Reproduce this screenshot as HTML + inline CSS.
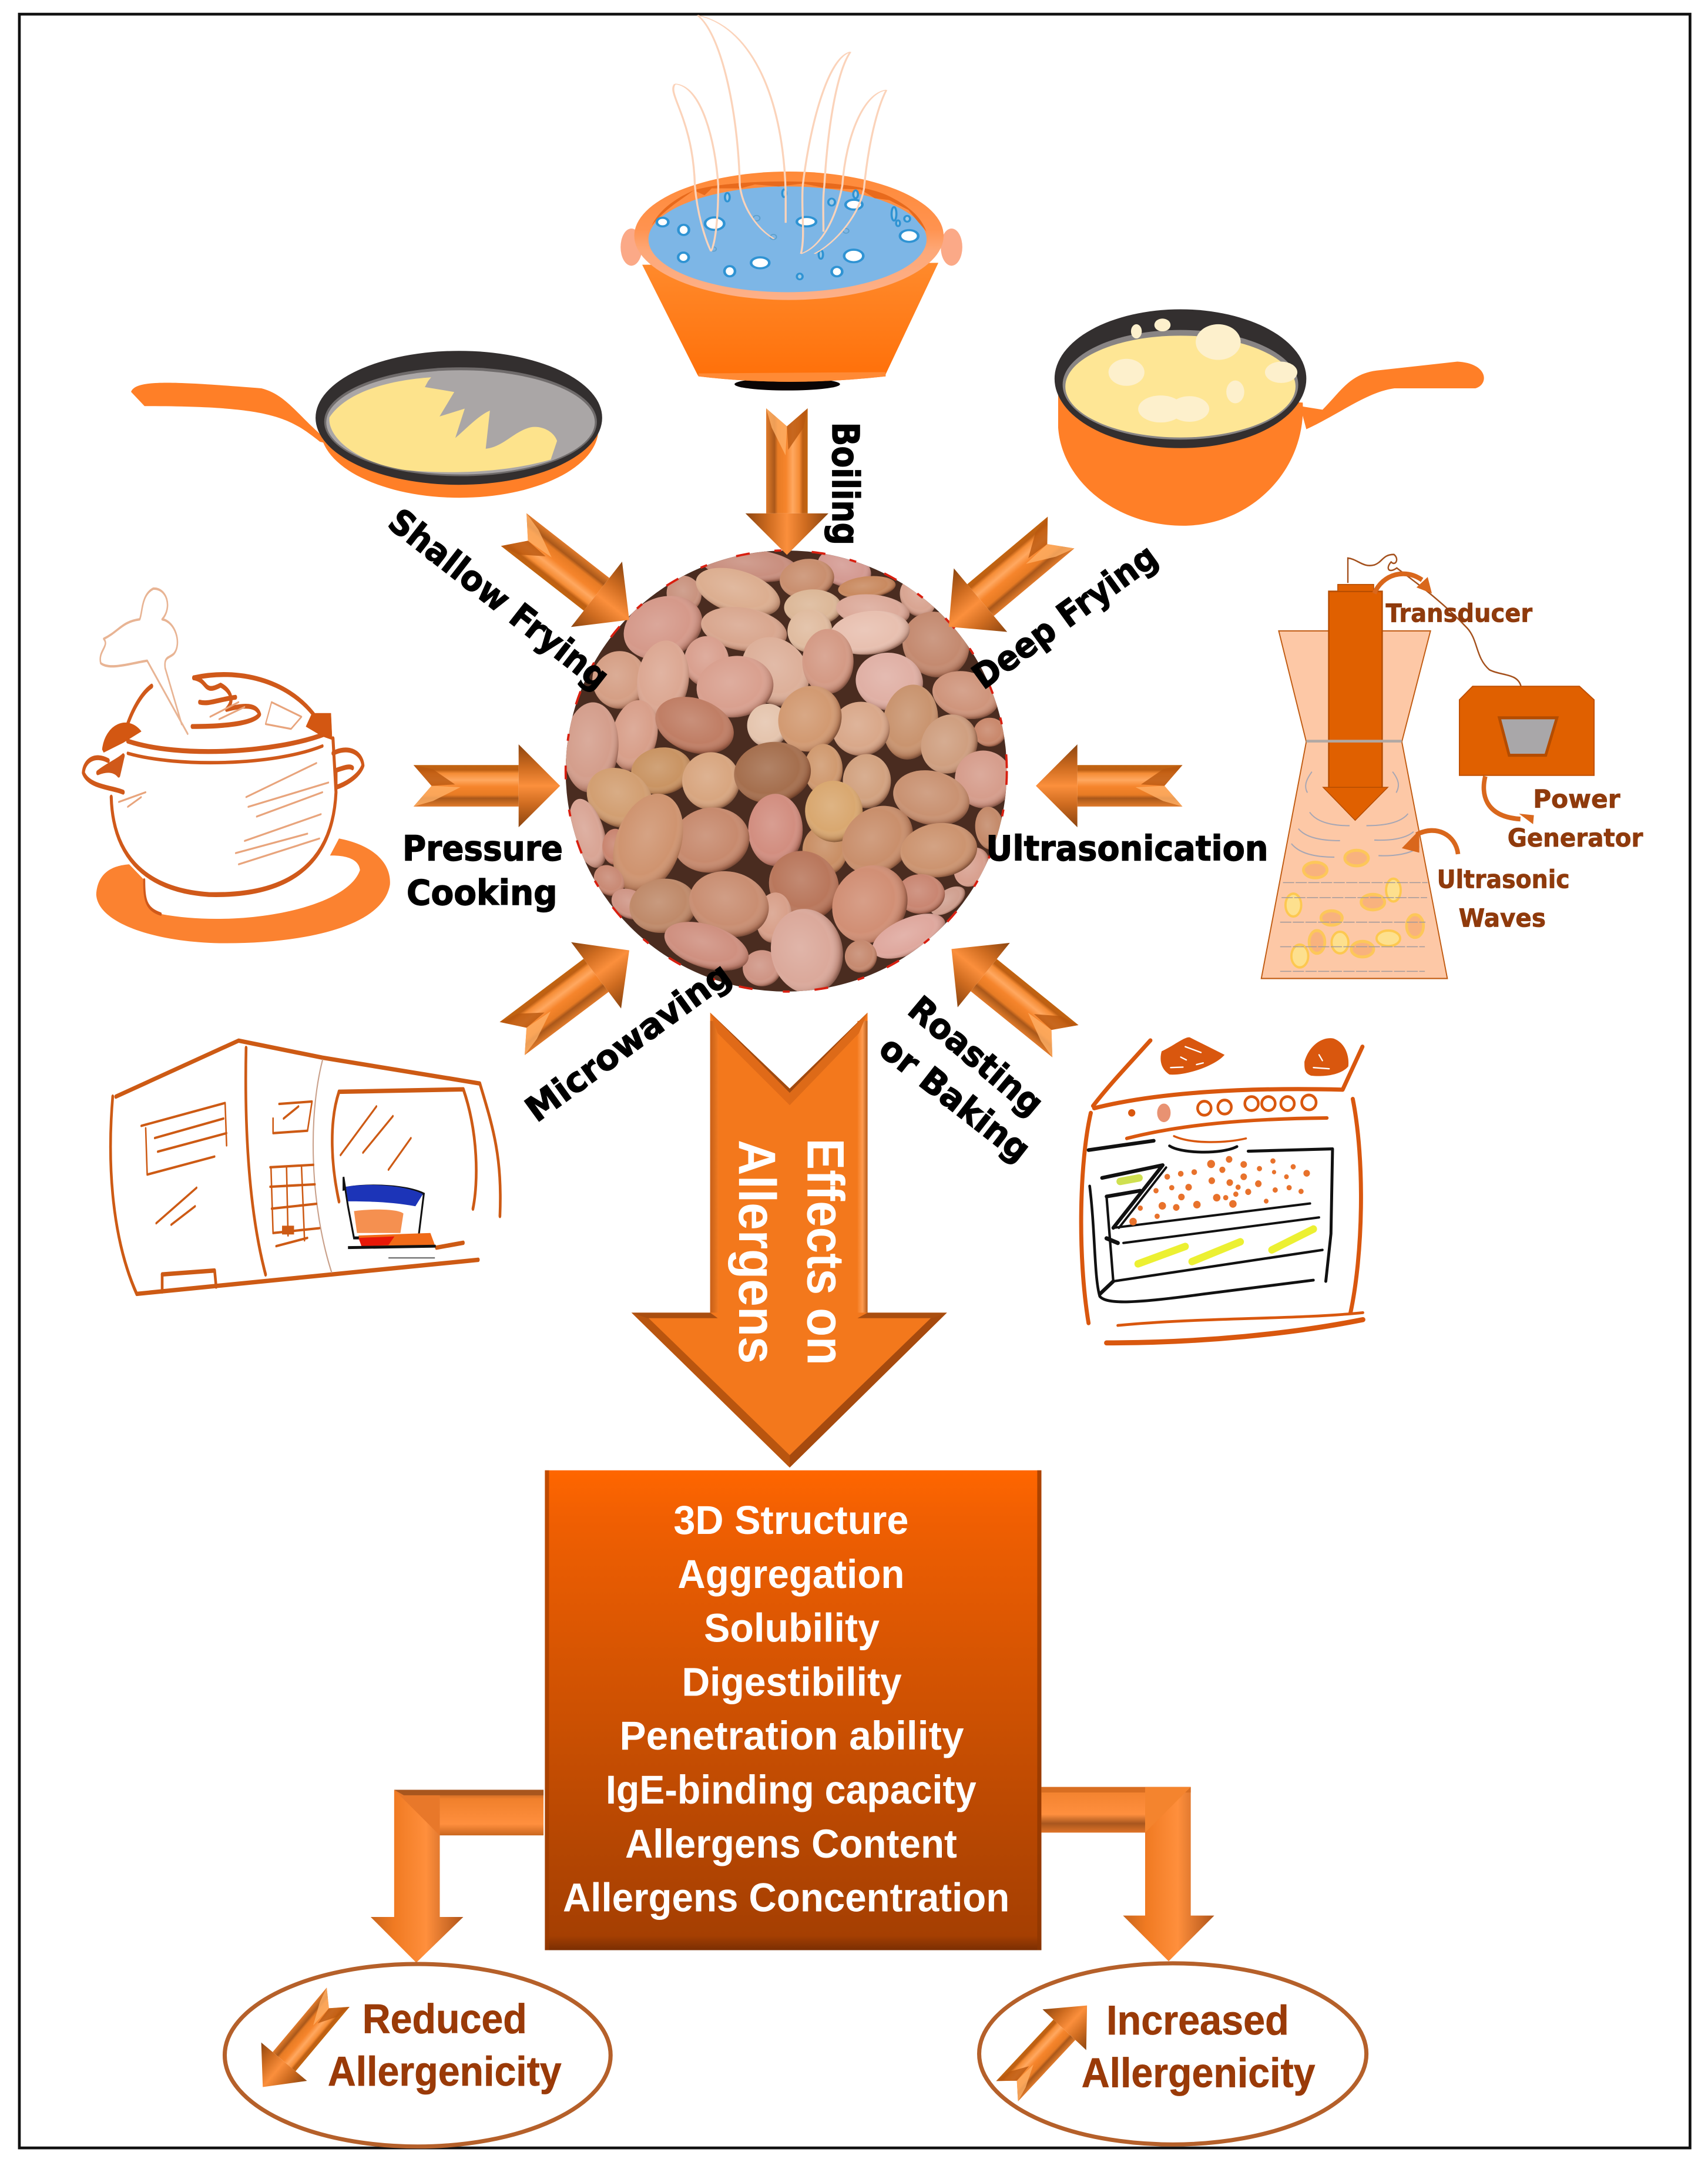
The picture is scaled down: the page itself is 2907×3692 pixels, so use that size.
<!DOCTYPE html>
<html><head><meta charset="utf-8"><title>Effects of processing on allergens</title>
<style>html,body{margin:0;padding:0;background:#fff}svg{display:block}
.w{font-family:"Liberation Sans",sans-serif;font-weight:bold;fill:#fff;font-size:29px}
.b{font-family:"DejaVu Sans",sans-serif;font-weight:bold;fill:#000;stroke:#000;stroke-width:.6px;font-size:25px}
.d{font-family:"DejaVu Sans",sans-serif;font-weight:bold;fill:#8f3a0c;stroke:#8f3a0c;stroke-width:.35px;font-size:18px}
.r{font-family:"Liberation Sans",sans-serif;font-weight:bold;fill:#9a3a08;stroke:#9a3a08;stroke-width:.3px;font-size:30px}
</style></head><body>
<svg xmlns="http://www.w3.org/2000/svg" width="2907" height="3692" viewBox="0 0 1235 1568">
<defs>
<linearGradient id="ag" x1="0" y1="-15" x2="0" y2="15" gradientUnits="userSpaceOnUse"><stop offset="0" stop-color="#c2640f"/><stop offset=".12" stop-color="#bd5f14"/><stop offset=".2" stop-color="#f58c35"/><stop offset=".36" stop-color="#ffa860"/><stop offset=".52" stop-color="#f6852c"/><stop offset=".72" stop-color="#e77b24"/><stop offset=".8" stop-color="#a9571a"/><stop offset=".9" stop-color="#c56a22"/><stop offset="1" stop-color="#e07a2c"/></linearGradient>
<linearGradient id="ah" x1="0" y1="-30" x2="0" y2="30" gradientUnits="userSpaceOnUse"><stop offset="0" stop-color="#8c4510"/><stop offset=".28" stop-color="#cf6c20"/><stop offset=".5" stop-color="#fb8f3c"/><stop offset=".72" stop-color="#cf6c20"/><stop offset="1" stop-color="#8c4510"/></linearGradient>
<g id="ar"><path d="M-30,-15 L-106,-15 L-93,0 L-106,15 L-30,15 Z" fill="url(#ag)"/>
<path d="M0,0 L-30,-30 L-30,30 Z" fill="url(#ah)"/>
<path d="M-106,-15 L-93,0 L-76,-1 L-92,-12 Z" fill="#b9580f" opacity=".8"/><path d="M-106,15 L-93,0 L-72,1 L-92,11 Z" fill="#ffb066" opacity=".8"/></g>
<radialGradient id="sh" cx=".44" cy=".42" r=".6"><stop offset="0" stop-color="#fff" stop-opacity=".14"/><stop offset=".68" stop-color="#fff" stop-opacity="0"/><stop offset=".9" stop-color="#5a2614" stop-opacity=".22"/><stop offset="1" stop-color="#3a160a" stop-opacity=".6"/></radialGradient>
<g id="n"><circle r="1.07" fill="inherit"/><circle r="1.07" fill="url(#sh)"/></g>
<clipPath id="cc"><circle cx="568.5" cy="557.3" r="159.5"/></clipPath>
<linearGradient id="bx" x1="0" y1="0" x2="0" y2="1"><stop offset="0" stop-color="#ff6600"/><stop offset=".1" stop-color="#f05f02"/><stop offset=".55" stop-color="#c94f02"/><stop offset=".97" stop-color="#a53f02"/><stop offset="1" stop-color="#7a2e02"/></linearGradient>
<linearGradient id="pt" x1="0" y1="0" x2="0" y2="1"><stop offset="0" stop-color="#ff8a2c"/><stop offset="1" stop-color="#ff6f08"/></linearGradient>
<linearGradient id="rm" x1="0" y1="0" x2="0" y2="1"><stop offset="0" stop-color="#ff8a38"/><stop offset=".45" stop-color="#ff9350"/><stop offset=".62" stop-color="#fda878"/><stop offset="1" stop-color="#fdb088"/></linearGradient>
<linearGradient id="sv" x1="0" y1="0" x2="1" y2="0"><stop offset="0" stop-color="#c9661e"/><stop offset=".25" stop-color="#f07a22"/><stop offset=".6" stop-color="#ff8f3c"/><stop offset="1" stop-color="#b0551a"/></linearGradient>
<linearGradient id="sh2" x1="0" y1="0" x2="0" y2="1"><stop offset="0" stop-color="#a8561e"/><stop offset=".2" stop-color="#f0802c"/><stop offset=".75" stop-color="#ff8f3e"/><stop offset="1" stop-color="#ca661e"/></linearGradient>
<linearGradient id="sh3" x1="0" y1="0" x2="0" y2="1"><stop offset="0" stop-color="#f0802c"/><stop offset=".6" stop-color="#ff8f3e"/><stop offset=".8" stop-color="#a8561e"/><stop offset="1" stop-color="#e07428"/></linearGradient>
<linearGradient id="s1" x1="0" y1="0" x2="1" y2="0"><stop offset="0" stop-color="#c9601a"/><stop offset=".5" stop-color="#d96c1c"/><stop offset="1" stop-color="#f27a22"/></linearGradient>
<linearGradient id="s2" x1="0" y1="0" x2="1" y2="0"><stop offset="0" stop-color="#f47c22"/><stop offset=".5" stop-color="#ff9c50"/><stop offset="1" stop-color="#b65a18"/></linearGradient>
</defs>
<rect width="1235" height="1568" fill="#fff"/>
<rect x="14" y="10" width="1208" height="1543" fill="none" stroke="#111" stroke-width="2"/>

<!-- boiling pot -->
<g transform="translate(441.8,110.5) scale(.1734,.1416)">
 <ellipse cx="85" cy="480" rx="45" ry="95" fill="#fba987"/><ellipse cx="1420" cy="480" rx="45" ry="95" fill="#fba987"/>
 <ellipse cx="735" cy="1180" rx="220" ry="32" fill="#0a0505"/>
 <path d="M130,570 L1365,560 L1145,1130 L1145,1140 Q740,1195 365,1140 L360,1130 Z" fill="url(#pt)"/>
 <path d="M365,1125 L1145,1118 L1145,1140 Q740,1195 365,1140 Z" fill="#ff8a35"/>
 <ellipse cx="742" cy="422" rx="645" ry="328" fill="url(#rm)"/>
 <ellipse cx="736" cy="440" rx="580" ry="270" fill="#7db6e6"/>
 <path d="M345,190 C500,130 1000,120 1160,220 C1240,270 1290,320 1315,400 L1280,350 L1240,290 L1160,240 L1100,230 L1040,185 L900,180 L800,155 L700,170 L600,160 L540,180 L420,180 L390,215 L345,190 C290,240 220,290 170,370 C200,290 270,230 345,190 Z" fill="#e86a1c"/>
 <g fill="#fff" stroke="#2f93d3" stroke-width="11"><ellipse cx="215" cy="352" rx="24" ry="22"/><ellipse cx="303" cy="392" rx="22" ry="26"/><ellipse cx="432" cy="360" rx="40" ry="32"/><ellipse cx="302" cy="532" rx="22" ry="24"/><ellipse cx="622" cy="560" rx="38" ry="28"/><ellipse cx="495" cy="603" rx="22" ry="26"/><ellipse cx="815" cy="350" rx="40" ry="24"/><ellipse cx="1012" cy="525" rx="40" ry="32"/><ellipse cx="1013" cy="263" rx="35" ry="25"/><ellipse cx="942" cy="605" rx="22" ry="24"/><ellipse cx="1243" cy="423" rx="38" ry="30"/></g>
 <g fill="#9fcbe8" stroke="#2f93d3" stroke-width="9"><ellipse cx="485" cy="225" rx="10" ry="22"/><ellipse cx="722" cy="205" rx="8" ry="20"/><ellipse cx="920" cy="250" rx="14" ry="18"/><ellipse cx="875" cy="518" rx="9" ry="22"/><ellipse cx="787" cy="630" rx="12" ry="15"/><ellipse cx="1180" cy="310" rx="10" ry="35"/><ellipse cx="1235" cy="335" rx="12" ry="15"/><ellipse cx="1197" cy="358" rx="8" ry="15"/><ellipse cx="1020" cy="210" rx="10" ry="20"/></g>
 <g fill="none" stroke="#5ea0cc" stroke-width="5"><circle cx="607" cy="332" r="14"/><circle cx="677" cy="428" r="13"/><circle cx="980" cy="397" r="12"/><circle cx="428" cy="490" r="11"/></g>
</g>
<g transform="translate(85,0) scale(.6502,.2574)" fill="none" stroke="#fbd3ba" stroke-width="2.2">
 <path d="M645,42 C700,70 740,250 743,540 L743,625"/><path d="M815,145 C790,160 770,350 762,520 C760,590 765,660 760,712"/><path d="M620,235 C650,240 665,400 668,520 C668,610 665,680 660,705"/><path d="M855,252 C830,260 810,380 806,520 C800,600 785,690 760,712"/><path d="M620,235 C610,260 640,330 642,520 C645,610 655,680 660,705"/><path d="M645,42 C670,90 690,300 692,520 C695,580 710,640 730,670"/><path d="M815,145 C800,200 790,350 786,520 C784,560 785,600 785,650"/><path d="M855,252 C845,300 835,400 830,530 C825,600 800,680 775,712"/>
</g>

<!-- shallow pan -->
<g transform="translate(85,0) scale(.6502,.2574)"><path d="M15,1100 C20,1065 60,1070 160,1090 C190,1110 200,1170 240,1250 L225,1240 C190,1170 170,1140 30,1140 Z" fill="#ff7f27"/></g>
<g transform="translate(212.4,246.4) scale(.1517,.1416)">
 <ellipse cx="790" cy="450" rx="662" ry="350" fill="#ff7f27"/>
 <ellipse cx="787" cy="392" rx="683" ry="342" fill="#332f2f"/>
 <ellipse cx="795" cy="412" rx="650" ry="278" fill="#6f6b6b"/>
 <ellipse cx="795" cy="415" rx="640" ry="266" fill="#aaa6a6"/>
 <path d="M655,185 C450,200 250,260 170,390 C160,480 280,620 540,660 C800,685 1050,660 1225,605 L1255,510 C1240,460 1180,430 1130,440 C1050,460 1000,540 915,550 L935,355 C880,380 820,450 770,495 L815,345 L695,385 L765,260 L625,235 L640,205 Z" fill="#fde38c"/>
</g>
<!-- deep pan -->
<g transform="translate(85,0) scale(.6502,.2574)">
 <path d="M1046,1100 L1046,1200 C1050,1350 1110,1476 1185,1476 C1260,1476 1322,1320 1318,1130 Z" fill="#ff7f27"/>
 <path d="M1315,1140 L1340,1150 C1360,1100 1370,1050 1400,1040 L1490,1015 C1525,1020 1525,1080 1510,1090 L1420,1090 C1390,1100 1360,1160 1322,1205 Z" fill="#ff7f27"/>
 <ellipse cx="1182" cy="1063" rx="140" ry="195" fill="#332f2f"/>
 <ellipse cx="1182" cy="1080" rx="131" ry="154" fill="#888484"/>
 <ellipse cx="1182" cy="1085" rx="128" ry="143" fill="#fee695"/>
 <g fill="#fdf0cc"><ellipse cx="1224" cy="960" rx="25" ry="50"/><ellipse cx="1122" cy="1045" rx="20" ry="38"/><ellipse cx="1294" cy="1045" rx="18" ry="30"/><ellipse cx="1243" cy="1100" rx="10" ry="32"/><ellipse cx="1160" cy="1148" rx="25" ry="38"/><ellipse cx="1192" cy="1148" rx="22" ry="36"/><ellipse cx="1133" cy="930" rx="6" ry="20"/><ellipse cx="1162" cy="912" rx="9" ry="18"/></g>
</g>

<!-- peanuts -->
<g clip-path="url(#cc)">
<circle cx="568.5" cy="557.3" r="160" fill="#4a2c20"/>
<g transform="translate(403.6,361) scale(.2167,.2438)">
<use href="#n" fill="#c98f7f" transform="translate(640,195) rotate(5) scale(150,45)"/>
<use href="#n" fill="#d49a92" transform="translate(955,205) rotate(15) scale(85,50)"/>
<use href="#n" fill="#c98f6f" transform="translate(830,235) rotate(-5) scale(85,55)"/>
<use href="#n" fill="#c98a60" transform="translate(1030,260) rotate(-5) scale(90,30)"/>
<use href="#n" fill="#d9a592" transform="translate(1200,290) rotate(40) scale(60,50)"/>
<use href="#n" fill="#c9937f" transform="translate(420,280) rotate(20) scale(55,50)"/>
<use href="#n" fill="#dcae90" transform="translate(600,275) rotate(15) scale(135,60)"/>
<use href="#n" fill="#d59f85" transform="translate(205,535) scale(85,80)"/>
<use href="#n" fill="#d5998a" transform="translate(350,380) rotate(-15) scale(125,85)"/>
<use href="#n" fill="#dcb898" transform="translate(850,320) scale(90,50)"/>
<use href="#n" fill="#dcaa9a" transform="translate(1050,330) rotate(5) scale(115,45)"/>
<use href="#n" fill="#d9a78f" transform="translate(620,385) rotate(8) scale(135,60)"/>
<use href="#n" fill="#e0bca0" transform="translate(840,390) scale(70,60)"/>
<use href="#n" fill="#c48a70" transform="translate(1260,430) rotate(15) scale(105,90)"/>
<use href="#n" fill="#e8c0b0" transform="translate(1040,395) rotate(-5) scale(125,60)"/>
<use href="#n" fill="#cf957c" transform="translate(1360,580) rotate(10) scale(105,65)"/>
<use href="#n" fill="#d9a08f" transform="translate(495,480) rotate(30) scale(70,70)"/>
<use href="#n" fill="#ddb09a" transform="translate(725,510) rotate(30) scale(110,90)"/>
<use href="#n" fill="#d49a85" transform="translate(900,480) scale(80,90)"/>
<use href="#n" fill="#e0b0a5" transform="translate(1105,540) rotate(5) scale(105,80)"/>
<use href="#n" fill="#dca893" transform="translate(350,535) rotate(10) scale(80,110)"/>
<use href="#n" fill="#d9a08f" transform="translate(590,555) rotate(-5) scale(120,85)"/>
<use href="#n" fill="#c9946f" transform="translate(1175,660) rotate(15) scale(85,105)"/>
<use href="#n" fill="#e5c5ae" transform="translate(700,670) scale(65,60)"/>
<use href="#n" fill="#d9a88a" transform="translate(1010,680) scale(90,75)"/>
<use href="#n" fill="#d29a72" transform="translate(840,650) rotate(-20) scale(100,90)"/>
<use href="#n" fill="#d89f8a" transform="translate(255,700) rotate(15) scale(70,100)"/>
<use href="#n" fill="#c07e65" transform="translate(455,670) rotate(15) scale(125,75)"/>
<use href="#n" fill="#d49e8c" transform="translate(110,735) rotate(5) scale(85,125)"/>
<use href="#n" fill="#c9886c" transform="translate(1440,690) scale(50,40)"/>
<use href="#n" fill="#cf9f80" transform="translate(1305,725) rotate(-25) scale(90,80)"/>
<use href="#n" fill="#d09a70" transform="translate(885,800) scale(60,70)"/>
<use href="#n" fill="#d2a280" transform="translate(1030,835) rotate(10) scale(75,75)"/>
<use href="#n" fill="#d69d8c" transform="translate(1420,830) rotate(5) scale(90,80)"/>
<use href="#n" fill="#c99463" transform="translate(345,805) rotate(-5) scale(95,65)"/>
<use href="#n" fill="#d8a680" transform="translate(510,835) scale(90,80)"/>
<use href="#n" fill="#a56f4e" transform="translate(715,810) rotate(-5) scale(120,85)"/>
<use href="#n" fill="#c99272" transform="translate(1245,885) rotate(10) scale(120,75)"/>
<use href="#n" fill="#d29f72" transform="translate(205,885) rotate(20) scale(105,80)"/>
<use href="#n" fill="#d9a595" transform="translate(100,990) rotate(-20) scale(50,100)"/>
<use href="#n" fill="#c48a6a" transform="translate(1440,975) rotate(-10) scale(45,60)"/>
<use href="#n" fill="#c98570" transform="translate(190,1030) scale(40,50)"/>
<use href="#n" fill="#c98f65" transform="translate(890,1040) rotate(30) scale(70,70)"/>
<use href="#n" fill="#d9a870" transform="translate(920,925) rotate(10) scale(90,85)"/>
<use href="#n" fill="#d28e80" transform="translate(725,980) scale(85,100)"/>
<use href="#n" fill="#c78a6e" transform="translate(510,1010) rotate(-5) scale(120,90)"/>
<use href="#n" fill="#cf9470" transform="translate(300,1020) rotate(25) scale(100,145)"/>
<use href="#n" fill="#c98f6c" transform="translate(1065,1010) rotate(-25) scale(115,90)"/>
<use href="#n" fill="#d8a08f" transform="translate(1380,1090) rotate(-40) scale(60,50)"/>
<use href="#n" fill="#cc9470" transform="translate(1270,1040) rotate(-5) scale(120,75)"/>
<use href="#n" fill="#c98a75" transform="translate(170,1130) rotate(30) scale(50,40)"/>
<use href="#n" fill="#cf9585" transform="translate(240,1200) rotate(20) scale(60,40)"/>
<use href="#n" fill="#d0a090" transform="translate(1300,1190) rotate(-30) scale(60,30)"/>
<use href="#n" fill="#c98672" transform="translate(1210,1170) scale(75,55)"/>
<use href="#n" fill="#b9775c" transform="translate(820,1145) rotate(15) scale(110,95)"/>
<use href="#n" fill="#bf8a6a" transform="translate(350,1205) rotate(-5) scale(105,75)"/>
<use href="#n" fill="#d8a08a" transform="translate(720,1240) rotate(10) scale(55,70)"/>
<use href="#n" fill="#c98e72" transform="translate(570,1200) rotate(10) scale(125,90)"/>
<use href="#n" fill="#d18f75" transform="translate(1040,1200) rotate(-25) scale(120,105)"/>
<use href="#n" fill="#dfa89e" transform="translate(1170,1295) rotate(-20) scale(120,50)"/>
<use href="#n" fill="#c68a70" transform="translate(1010,1355) scale(50,45)"/>
<use href="#n" fill="#cf9585" transform="translate(680,1390) scale(60,50)"/>
<use href="#n" fill="#cf9080" transform="translate(495,1325) rotate(15) scale(135,60)"/>
<use href="#n" fill="#dba99b" transform="translate(830,1340) rotate(-30) scale(110,120)"/>
</g></g>
<circle cx="568.5" cy="557.3" r="159.5" fill="none" stroke="#d81f10" stroke-width="1.6" stroke-dasharray="10 18 5 22"/>

<!-- arrows -->
<use href="#ar" transform="translate(405,568)"/>
<use href="#ar" transform="translate(749,568) rotate(180) scale(1,-1)"/>
<use href="#ar" transform="translate(569,401) rotate(90)"/>
<use href="#ar" transform="translate(455,448) rotate(38) scale(1,-1)"/>
<use href="#ar" transform="translate(686,453) rotate(140) scale(1,-1)"/>
<use href="#ar" transform="translate(455,687) rotate(-37)"/>
<use href="#ar" transform="translate(688,686) rotate(-141) scale(1,-1)"/>

<!-- big arrow -->
<path d="M513.5,732 L571,787 L627.3,732 L627.3,949 L684.7,949 L571,1061 L456.6,949 L513.5,949 Z" fill="#f3781c"/>
<rect x="513.5" y="738" width="6" height="211" fill="url(#s1)"/><rect x="620" y="738" width="7.3" height="211" fill="url(#s2)"/>
<path d="M513.5,732 L571,787 L571,799 L519,747 Z" fill="#e06a18"/>
<path d="M627.3,732 L571,787 L571,799 L621,747 Z" fill="#dd6a18"/>
<path d="M513.5,732 L571,787 L627.3,732 L571,790 Z" fill="#a04a10"/>
<path d="M456.6,949 L571,1061 L571,1052 L468,952 Z" fill="#b9550f"/>
<path d="M684.7,949 L571,1061 L571,1052 L674,952 Z" fill="#a64a0e"/>
<path d="M456.6,949 L513.5,949 L519,953 L468,953 Z" fill="#a94e10"/><path d="M684.7,949 L627.3,949 L620,953 L674,953 Z" fill="#a94e10"/>
<text class="w" transform="translate(584,823) rotate(90)" textLength="164" lengthAdjust="spacingAndGlyphs" style="font-size:38px">Effects on</text>
<text class="w" transform="translate(534.5,824) rotate(90)" textLength="162" lengthAdjust="spacingAndGlyphs" style="font-size:38px">Allergens</text>

<!-- box -->
<rect x="394" y="1063" width="359" height="347" fill="url(#bx)"/>
<rect x="394" y="1063" width="3" height="347" fill="#9a3b02" opacity=".6"/><rect x="750" y="1063" width="3" height="347" fill="#8a3402" opacity=".7"/>
<text class="w" x="487" y="1109" textLength="170" lengthAdjust="spacingAndGlyphs">3D Structure</text>
<text class="w" x="490" y="1148" textLength="164" lengthAdjust="spacingAndGlyphs">Aggregation</text>
<text class="w" x="509" y="1187" textLength="127" lengthAdjust="spacingAndGlyphs">Solubility</text>
<text class="w" x="493" y="1226" textLength="159" lengthAdjust="spacingAndGlyphs">Digestibility</text>
<text class="w" x="448" y="1265" textLength="249" lengthAdjust="spacingAndGlyphs">Penetration ability</text>
<text class="w" x="438" y="1304" textLength="268" lengthAdjust="spacingAndGlyphs">IgE-binding capacity</text>
<text class="w" x="452" y="1343" textLength="240" lengthAdjust="spacingAndGlyphs">Allergens Content</text>
<text class="w" x="407" y="1382" textLength="323" lengthAdjust="spacingAndGlyphs">Allergens Concentration</text>

<!-- side arrows -->
<rect x="318" y="1294" width="75" height="33" fill="url(#sh2)"/>
<path d="M285,1294 L318,1294 L318,1386 L335,1386 L301,1419 L268,1386 L285,1386 Z" fill="url(#sv)"/>
<path d="M285,1294 L318,1294 L318,1327 Z" fill="#e8782a"/><path d="M285,1294 L393,1294 L393,1298 L292,1298 Z" fill="#a8561e"/>
<rect x="753" y="1292" width="75" height="33" fill="url(#sh3)"/>
<path d="M828,1292 L861,1292 L861,1385 L878,1385 L845,1418 L812,1385 L828,1385 Z" fill="url(#sv)"/>
<path d="M753,1292 L861,1292 L861,1296 L753,1296 Z" fill="#d86e22"/><path d="M828,1292 L861,1292 L828,1325 Z" fill="#f4842e"/>

<!-- ellipses -->
<ellipse cx="302" cy="1486" rx="139.5" ry="66" fill="none" stroke="#b5602a" stroke-width="3"/>
<ellipse cx="848" cy="1485" rx="140" ry="65.5" fill="none" stroke="#b5602a" stroke-width="3"/>
<use href="#ar" transform="translate(190,1509) rotate(130) scale(.8,.72)"/>
<use href="#ar" transform="translate(786,1450) rotate(-47) scale(.8,.72)"/>
<text class="r" x="262" y="1470" textLength="119" lengthAdjust="spacingAndGlyphs">Reduced</text>
<text class="r" x="237" y="1508" textLength="169" lengthAdjust="spacingAndGlyphs">Allergenicity</text>
<text class="r" x="800" y="1471" textLength="132" lengthAdjust="spacingAndGlyphs">Increased</text>
<text class="r" x="782" y="1509" textLength="169" lengthAdjust="spacingAndGlyphs">Allergenicity</text>

<!-- black labels -->
<text class="b" x="291" y="622" textLength="116" lengthAdjust="spacingAndGlyphs">Pressure</text>
<text class="b" x="294" y="654" textLength="109" lengthAdjust="spacingAndGlyphs">Cooking</text>
<text class="b" x="713" y="622" textLength="204" lengthAdjust="spacingAndGlyphs">Ultrasonication</text>
<text class="b" transform="translate(602,305) rotate(90)" textLength="89" lengthAdjust="spacingAndGlyphs" style="font-size:27px">Boiling</text>
<text class="b" transform="translate(279,380) rotate(38)" textLength="194" lengthAdjust="spacingAndGlyphs">Shallow Frying</text>
<text class="b" transform="translate(711,499) rotate(-36)" textLength="158" lengthAdjust="spacingAndGlyphs">Deep Frying</text>
<text class="b" transform="translate(388,812) rotate(-36)" textLength="176" lengthAdjust="spacingAndGlyphs">Microwaving</text>
<text class="b" transform="translate(655,732) rotate(40)" textLength="118" lengthAdjust="spacingAndGlyphs">Roasting</text>
<text class="b" transform="translate(634,761) rotate(38)" textLength="130" lengthAdjust="spacingAndGlyphs">or Baking</text>

<!-- ultrasonication -->
<g transform="translate(892.1,382.3) scale(.2032,.2167)">
 <path d="M160,340 L700,340 L598,710 L760,1500 L98,1500 L258,710 Z" fill="#fdc8a6" stroke="#c05a10" stroke-width="4"/>
 <g fill="#f8b27e" stroke="#fdc75a" stroke-width="10"><ellipse cx="437" cy="1098" rx="42" ry="26"/><ellipse cx="290" cy="1138" rx="42" ry="26"/><ellipse cx="495" cy="1245" rx="42" ry="26"/><ellipse cx="348" cy="1298" rx="38" ry="24"/><ellipse cx="458" cy="1402" rx="40" ry="26"/><ellipse cx="296" cy="1378" rx="28" ry="38"/><ellipse cx="645" cy="1325" rx="30" ry="38"/></g>
 <g fill="#fde08e" stroke="#fdc850" stroke-width="8"><ellipse cx="212" cy="1255" rx="28" ry="38"/><ellipse cx="568" cy="1205" rx="26" ry="38"/><ellipse cx="378" cy="1380" rx="30" ry="36"/><ellipse cx="550" cy="1366" rx="42" ry="26"/><ellipse cx="235" cy="1425" rx="30" ry="38"/></g>
 <g stroke="#a29a9c" stroke-width="3" fill="none" stroke-dasharray="40 5"><path d="M175,1180 L690,1180"/><path d="M170,1230 L688,1230"/><path d="M165,1312 L682,1312"/><path d="M165,1394 L680,1394"/><path d="M165,1476 L680,1476"/></g>
 <g stroke="#a6a6b4" stroke-width="4" fill="none"><path d="M278,810 C255,840 250,860 262,880"/><path d="M565,810 C590,840 590,860 578,880"/><path d="M270,945 C300,985 370,990 412,990"/><path d="M620,950 C590,985 520,990 472,990"/><path d="M230,1000 C260,1035 330,1040 378,1040"/><path d="M640,1010 C610,1035 550,1040 500,1038"/><path d="M205,1050 C240,1090 310,1095 358,1095"/><path d="M660,1060 C630,1085 570,1092 515,1090"/></g>
 <rect x="338" y="208" width="190" height="660" fill="#e06000" stroke="#b44c00" stroke-width="5"/>
 <path d="M318,862 L548,862 L432,972 Z" fill="#e06000" stroke="#b44c00" stroke-width="3"/>
 <rect x="370" y="185" width="128" height="23" fill="#e06000" stroke="#b44c00" stroke-width="3"/>
 <path d="M258,708 L598,708" stroke="#b0a8a4" stroke-width="9"/>
 <path d="M406,180 L406,97 C440,100 460,130 500,120 C530,110 530,85 570,85 C590,100 575,125 560,110 C540,130 550,150 580,130 C620,160 730,230 830,330 C870,370 860,430 910,470 C950,490 1010,480 1022,525" fill="none" stroke="#a4501c" stroke-width="5"/>
 <path d="M850,525 L1230,525 L1282,570 L1282,822 L803,822 L803,570 Z" fill="#e06000" stroke="#c04f00" stroke-width="4"/>
 <path d="M945,630 L1150,630 L1110,755 L980,755 Z" fill="#a9a7a9" stroke="#b44c00" stroke-width="10"/>
 <path d="M500,215 C530,150 610,130 670,170" fill="none" stroke="#d9671c" stroke-width="16"/><path d="M650,195 L705,215 L690,160 Z" fill="#d9671c"/>
 <path d="M895,825 C880,880 890,960 1020,968" fill="none" stroke="#d9671c" stroke-width="16"/><path d="M1015,950 L1068,955 L1065,985 Z" fill="#d9671c"/>
 <path d="M798,1085 C790,1020 720,985 650,1020" fill="none" stroke="#d9671c" stroke-width="16"/><path d="M598,1065 L660,1080 L660,1005 Z" fill="#d9671c"/>
</g>
<text class="d" x="1002" y="449.5" textLength="106" lengthAdjust="spacingAndGlyphs">Transducer</text>
<text class="d" x="1108.5" y="584" textLength="63" lengthAdjust="spacingAndGlyphs">Power</text>
<text class="d" x="1090" y="612" textLength="98" lengthAdjust="spacingAndGlyphs">Generator</text>
<text class="d" x="1039" y="642" textLength="96" lengthAdjust="spacingAndGlyphs">Ultrasonic</text>
<text class="d" x="1054.7" y="670" textLength="63" lengthAdjust="spacingAndGlyphs">Waves</text>

<!-- pressure cooker & microwave -->
<g transform="translate(42.5,403.6) scale(.2167,.3522)" fill="none" stroke-linecap="round" stroke-linejoin="round">
 <path d="M935,575 C1060,590 1110,630 1105,670 C1080,760 800,790 560,790 C330,790 130,750 125,690 C130,640 190,630 235,628 L285,660 C280,700 290,720 340,730 C600,760 960,720 1005,640 C1000,610 930,610 905,610 Z" fill="#fb8230"/>
 <path d="M175,490 C180,600 270,680 500,690 C800,695 915,610 925,480 L915,370 C700,400 400,410 195,378" fill="#fff" stroke="none"/>
 <g stroke="#e8b494" stroke-width="5"><path d="M430,360 L295,210 C240,215 170,230 140,215 C130,190 170,180 150,165 C200,150 210,130 270,125 C280,110 275,75 315,62 C360,60 380,100 345,125 C390,130 410,175 385,195 C370,205 350,200 355,225 L410,340"/></g>
 <g stroke="#d0591a" stroke-width="10">
  <path d="M175,490 C180,600 270,680 500,690 C800,695 915,610 925,480 L915,370"/>
  <path d="M230,375 C400,410 720,400 890,360"/><path d="M230,400 C400,430 720,425 880,385" stroke-width="7"/>
  <path d="M215,370 C240,310 280,275 310,262"/>
  <path d="M450,245 C600,225 760,250 850,320"/>
  <path d="M450,245 C500,250 480,280 540,260 C570,270 590,290 560,310 C620,300 660,300 670,320 C650,340 540,345 445,345"/>
  <path d="M470,295 C500,300 530,290 590,285"/>
  <path d="M165,415 C120,400 85,415 82,440 C100,470 180,470 215,480"/>
  <path d="M130,440 C160,425 200,415 215,405 L200,445 C180,430 150,435 130,440" fill="#d0591a"/>
  <path d="M915,400 C960,385 1010,395 1015,425 C1000,450 950,465 925,470 L925,435 C950,430 970,425 980,430"/>
  <path d="M285,660 C285,700 290,720 340,730" stroke-width="7"/>
 </g>
 <path d="M145,392 C155,340 230,320 275,355 L215,378 L150,398 Z" fill="#d35712" stroke="#d35712"/>
 <path d="M825,345 L845,318 L908,318 L912,372 L880,365 Z" fill="#d35712" stroke="#d35712"/>
 <g stroke="#e8a47c" stroke-width="4"><path d="M625,490 L860,420"/><path d="M632,510 L900,460"/><path d="M660,530 L880,480"/><path d="M620,580 L875,525"/><path d="M590,605 L830,565"/><path d="M600,628 L870,575"/><path d="M200,500 L290,480"/><path d="M230,510 L275,490"/><path d="M690,340 L710,295 L810,325 L775,350 Z"/><path d="M505,325 L600,295"/><path d="M535,330 L620,305"/></g>
</g>
<g transform="translate(42.5,403.6) scale(.2167,.3522)" fill="none" stroke="#cd5a14" stroke-width="9" stroke-linecap="round" stroke-linejoin="round">
 <path d="M190,1105 L600,990 L880,1025 L1405,1078 C1450,1170 1480,1230 1472,1350"/>
 <path d="M180,1105 C160,1250 180,1400 260,1510 L1400,1440"/>
 <path d="M625,1005 C620,1150 630,1330 690,1470"/>
 <path d="M880,1030 C830,1150 840,1330 910,1465" stroke="#c9a08a" stroke-width="4"/>
 <path d="M935,1095 L1350,1090 C1400,1180 1400,1280 1382,1335"/><path d="M935,1095 C900,1160 910,1250 935,1320"/>
 <path d="M1260,1415 L1350,1405"/><path d="M345,1470 L520,1462 L525,1495"/><path d="M345,1470 L345,1505"/>
 <g stroke-width="5"><path d="M275,1165 L555,1118 L560,1205"/><path d="M290,1170 L295,1265 L520,1228"/><path d="M320,1190 L550,1150"/><path d="M330,1218 L560,1180"/><path d="M325,1365 L460,1292"/><path d="M375,1368 L455,1330"/>
 <path d="M735,1120 L845,1115 L830,1175 L715,1180 L715,1150"/><path d="M750,1150 L800,1125"/>
 <path d="M705,1250 L850,1245"/><path d="M705,1290 L855,1285"/><path d="M710,1335 L860,1325"/><path d="M715,1385 L870,1375"/><path d="M708,1250 L715,1385"/><path d="M760,1250 L765,1390"/><path d="M810,1250 L820,1400"/><path d="M725,1412 L830,1395"/>
 <path d="M940,1225 L1060,1125"/><path d="M1015,1220 L1115,1145"/><path d="M1100,1255 L1175,1190"/></g>
 <rect x="745" y="1370" width="40" height="18" fill="#cd5a14" stroke="none"/>
</g>
<g transform="translate(42.5,403.6) scale(.2167,.3522)">
 <path d="M950,1270 L965,1330 L985,1395 L1200,1395 L1218,1305 C1150,1285 1000,1285 950,1295 Z" fill="#fff" stroke="#111" stroke-width="6"/>
 <path d="M958,1290 C1020,1283 1150,1285 1215,1305 L1190,1330 C1100,1320 1010,1320 965,1320 Z" fill="#1c34b8"/>
 <path d="M985,1340 C1040,1335 1130,1335 1150,1345 L1140,1385 L995,1385 Z" fill="#f59050"/>
 <path d="M1000,1390 L1240,1385 L1255,1410 L1010,1412 Z" fill="#f06a18"/><path d="M1000,1395 L1120,1392 L1100,1410 L1010,1412 Z" fill="#e81808"/>
 <path d="M965,1415 L1258,1412" stroke="#111" stroke-width="6"/><path d="M1100,1436 L1255,1436" stroke="#777" stroke-width="3"/>
</g>

<!-- oven -->
<g transform="translate(756.2,722.2) scale(.1626,.168)" fill="none" stroke-linecap="round" stroke-linejoin="round">
 <g stroke="#d9570e" stroke-width="18">
  <path d="M465,178 C380,270 290,360 210,460"/><path d="M215,470 C500,400 900,380 1320,390 L1408,205"/>
  <path d="M200,490 C150,700 140,1100 190,1395"/><path d="M1365,430 C1420,700 1410,1100 1355,1350"/>
  <path d="M320,1405 C700,1370 1100,1380 1410,1350" stroke-width="12"/><path d="M270,1480 C700,1480 1100,1440 1410,1380" stroke-width="22"/>
  <path d="M360,600 C600,540 900,515 1250,512" stroke-width="15"/><path d="M570,590 C650,625 800,620 890,600" stroke-width="9"/>
 </g>
 <path d="M515,225 C570,200 620,160 640,165 L795,240 C750,290 620,330 550,325 C510,300 505,260 515,225 Z" fill="#d9570e"/>
 <path d="M1150,270 C1170,200 1230,160 1280,170 C1335,190 1350,250 1345,290 C1310,330 1230,335 1180,330 C1150,320 1150,300 1150,270 Z" fill="#d9570e"/>
 <g stroke="#fff" stroke-width="6"><path d="M555,295 L610,293"/><path d="M600,250 L625,262"/><path d="M620,205 L690,230"/><path d="M670,282 L700,275"/><path d="M1215,240 L1230,265"/><path d="M1190,295 L1260,300"/></g>
 <g stroke="#d9570e" stroke-width="12"><circle cx="705" cy="470" r="30"/><circle cx="795" cy="465" r="30"/><circle cx="915" cy="450" r="30"/><circle cx="990" cy="450" r="30"/><circle cx="1075" cy="450" r="30"/><circle cx="1170" cy="445" r="32"/></g>
 <circle cx="382" cy="490" r="16" fill="#d9570e"/><ellipse cx="525" cy="490" rx="30" ry="40" fill="#e89272"/>
 <g stroke="#111" stroke-width="16">
  <path d="M190,650 L480,610"/><path d="M900,655 L1275,645 L1268,1010 L1245,1215" stroke-width="13"/><path d="M550,632 C600,665 780,670 850,635" stroke-width="12"/>
  <path d="M195,805 C220,1000 215,1200 240,1280 C270,1315 400,1310 700,1270 L1190,1210" stroke-width="12"/>
  <path d="M250,770 L520,715 L300,985"/><path d="M270,850 L420,825"/><path d="M270,850 L300,1215 L1230,1080" stroke-width="11"/><path d="M300,1215 L240,1270"/>
  <path d="M300,985 L1175,880" stroke-width="10"/><path d="M345,1050 L1215,940" stroke-width="10"/><path d="M535,725 L325,985" stroke-width="10"/><path d="M270,1030 L320,1050" stroke-width="18"/>
 </g>
 <g fill="#e8722c" stroke="#e8722c" stroke-width="5"><circle cx="735" cy="710" r="15"/><circle cx="815" cy="690" r="12"/><circle cx="880" cy="712" r="12"/><circle cx="950" cy="730" r="9"/><circle cx="1010" cy="697" r="9"/><circle cx="1100" cy="722" r="9"/><circle cx="1160" cy="750" r="12"/><circle cx="785" cy="735" r="11"/><circle cx="880" cy="765" r="12"/><circle cx="945" cy="795" r="12"/><circle cx="1015" cy="745" r="7"/><circle cx="1070" cy="765" r="8"/><circle cx="1020" cy="822" r="9"/><circle cx="1082" cy="812" r="9"/><circle cx="1135" cy="828" r="9"/><circle cx="600" cy="752" r="10"/><circle cx="660" cy="745" r="10"/><circle cx="540" cy="765" r="10"/><circle cx="738" cy="782" r="12"/><circle cx="818" cy="790" r="12"/><circle cx="855" cy="810" r="9"/><circle cx="900" cy="830" r="11"/><circle cx="635" cy="810" r="12"/><circle cx="560" cy="812" r="9"/><circle cx="490" cy="825" r="9"/><circle cx="603" cy="852" r="12"/><circle cx="760" cy="855" r="14"/><circle cx="800" cy="855" r="9"/><circle cx="845" cy="840" r="9"/><circle cx="518" cy="890" r="14"/><circle cx="580" cy="897" r="12"/><circle cx="672" cy="885" r="14"/><circle cx="832" cy="882" r="14"/><circle cx="980" cy="870" r="8"/><circle cx="495" cy="935" r="9"/><circle cx="388" cy="958" r="14"/><circle cx="420" cy="900" r="9"/></g>
 <g stroke="#ecf032" stroke-width="32"><path d="M410,1140 L620,1065"/><path d="M650,1130 L865,1045"/><path d="M1005,1080 L1190,990"/><path d="M330,785 L415,770" stroke="#cfe050"/></g>
</g>
</svg>
</body></html>
